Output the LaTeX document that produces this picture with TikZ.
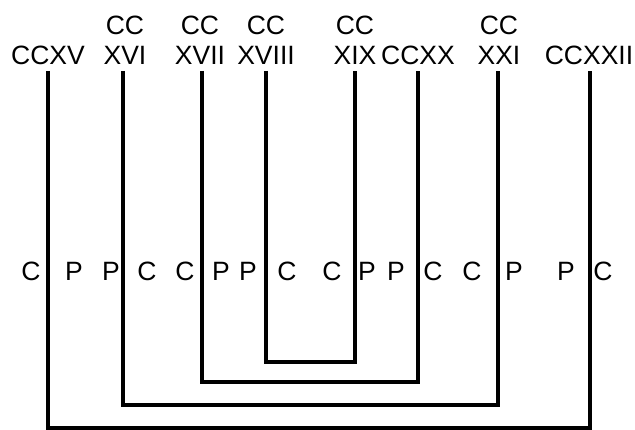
\documentclass[tikz,border=0pt]{standalone}
\usepackage{fontspec}
\setmainfont{Liberation Sans}
\usetikzlibrary{positioning}

\begin{document}
\begin{tikzpicture}[x=1pt, y=-1pt,
  num/.style={font=\fontsize{26.5}{30}\selectfont, align=center, anchor=south, inner sep=0pt},
  side/.style={font=\fontsize{26.5}{30}\selectfont, anchor=base, inner sep=0pt},
  bracket/.style={line width=4.8pt, line cap=butt}]
  \useasboundingbox (0,0) rectangle (635,430);

  % top labels
  \node[num] (n215) at (48,65) {CCXV};
  \node[num] (n216) at (125,65) {CC\\XVI};
  \node[num] (n217) at (200,65) {CC\\XVII};
  \node[num] (n218) at (266,65) {CC\\XVIII};
  \node[num] (n219) at (355,65) {CC\\XIX};
  \node[num] (n220) at (418,65) {CCXX};
  \node[num] (n221) at (499,65) {CC\\XXI};
  \node[num] (n222) at (589,65) {CCXXII};

  % letters along the lines
  \node[side] (s1) at (31,281) {C};
  \node[side] (s2) at (74,281) {P};
  \node[side] (s3) at (111,281) {P};
  \node[side] (s4) at (147,281) {C};
  \node[side] (s5) at (185,281) {C};
  \node[side] (s6) at (221,281) {P};
  \node[side] (s7) at (248,281) {P};
  \node[side] (s8) at (287,281) {C};
  \node[side] (s9) at (332,281) {C};
  \node[side] (s10) at (367,281) {P};
  \node[side] (s11) at (396,281) {P};
  \node[side] (s12) at (433,281) {C};
  \node[side] (s13) at (472,281) {C};
  \node[side] (s14) at (514,281) {P};
  \node[side] (s15) at (566,281) {P};
  \node[side] (s16) at (603,281) {C};

  \coordinate (b1) at (311,362);
  \coordinate (b2) at (310,382);
  \coordinate (b3) at (310,405);
  \coordinate (b4) at (319,428);

  \draw[bracket] ([yshift=-6pt]n218.south) |- (b1) -| ([yshift=-6pt]n219.south);
  \draw[bracket] ([xshift=2pt,yshift=-6pt]n217.south) |- (b2) -| ([yshift=-6pt]n220.south);
  \draw[bracket] ([xshift=-2pt,yshift=-6pt]n216.south) |- (b3) -| ([xshift=-1pt,yshift=-6pt]n221.south);
  \draw[bracket] ([yshift=-6pt]n215.south) |- (b4) -| ([xshift=1pt,yshift=-6pt]n222.south);
\end{tikzpicture}
\end{document}
